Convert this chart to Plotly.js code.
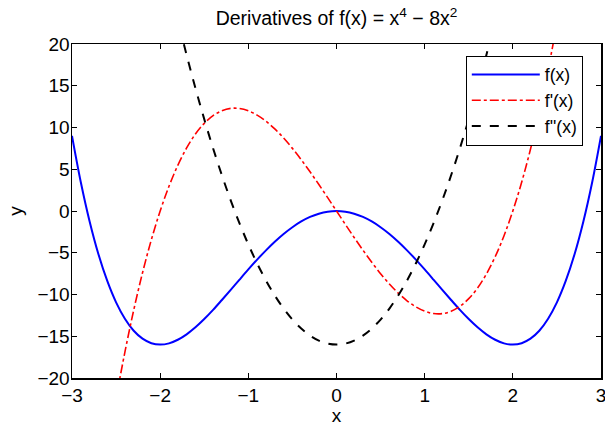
<!DOCTYPE html>
<html>
<head>
<meta charset="utf-8">
<script src="https://cdn.plot.ly/plotly-3.0.1.min.js"></script>
<style>html,body{margin:0;padding:0;background:#fff;}#chart{width:605px;height:426px;}</style>
</head>
<body>
<div id="chart"></div>
<script>
var xVals = [-3.0,-2.9,-2.8,-2.7,-2.6,-2.5,-2.4,-2.3,-2.2,-2.1,-2.0,-1.9,-1.8,-1.7,-1.6,-1.5,-1.4,-1.3,-1.2,-1.1,-1.0,-0.9,-0.8,-0.7,-0.6,-0.5,-0.4,-0.3,-0.2,-0.1,0.0,0.1,0.2,0.3,0.4,0.5,0.6,0.7,0.8,0.9,1.0,1.1,1.2,1.3,1.4,1.5,1.6,1.7,1.8,1.9,2.0,2.1,2.2,2.3,2.4,2.5,2.6,2.7,2.8,2.9,3.0];
var fVals = [9,3.45,-1.25,-5.18,-8.38,-10.94,-12.90,-14.34,-15.29,-15.83,-16,-15.85,-15.42,-14.77,-13.93,-12.94,-11.84,-10.66,-9.45,-8.22,-7,-5.82,-4.71,-3.68,-2.75,-1.94,-1.25,-0.71,-0.32,-0.08,0,-0.08,-0.32,-0.71,-1.25,-1.94,-2.75,-3.68,-4.71,-5.82,-7,-8.22,-9.45,-10.66,-11.84,-12.94,-13.93,-14.77,-15.42,-15.85,-16,-15.83,-15.29,-14.34,-12.90,-10.94,-8.38,-5.18,-1.25,3.45,9];
var f1Vals = [-60,-51.16,-43.01,-35.53,-28.70,-22.5,-16.90,-11.87,-7.39,-3.44,0,2.96,5.47,7.55,9.22,10.5,11.42,12.01,12.29,12.28,12,11.48,10.75,9.83,8.74,7.5,6.14,4.69,3.17,1.60,0,-1.60,-3.17,-4.69,-6.14,-7.5,-8.74,-9.83,-10.75,-11.48,-12,-12.28,-12.29,-12.01,-11.42,-10.5,-9.22,-7.55,-5.47,-2.96,0,3.44,7.39,11.87,16.90,22.5,28.70,35.53,43.01,51.16,60];
var f2Vals = [92,84.92,78.08,71.48,65.12,59,53.12,47.48,42.08,36.92,32,27.32,22.88,18.68,14.72,11,7.52,4.28,1.28,-1.48,-4,-6.28,-8.32,-10.12,-11.68,-13,-14.08,-14.92,-15.52,-15.88,-16,-15.88,-15.52,-14.92,-14.08,-13,-11.68,-10.12,-8.32,-6.28,-4,-1.48,1.28,4.28,7.52,11,14.72,18.68,22.88,27.32,32,36.92,42.08,47.48,53.12,59,65.12,71.48,78.08,84.92,92];
var seriesNames = ['f(x)', "f'(x)", "f''(x)"];
var xTicks = [-3,-2,-1,0,1,2,3];
var xTickText = ['\u22123','\u22122','\u22121','0','1','2','3'];
var yTicks = [-20,-15,-10,-5,0,5,10,15,20];
var yTickText = ['\u221220','\u221215','\u221210','\u22125','0','5','10','15','20'];

var FONT = 'Liberation Sans, Arial, Helvetica, sans-serif';
var FS = 19;
var traces = [
  {x: xVals, y: fVals, name: seriesNames[0], mode: 'lines', line: {color: '#0000ff', width: 2, dash: 'solid', shape: 'spline'}},
  {x: xVals, y: f1Vals, name: seriesNames[1], mode: 'lines', line: {color: '#ff0000', width: 1.6, dash: 'dashdot', shape: 'spline'}},
  {x: xVals, y: f2Vals, name: seriesNames[2], mode: 'lines', line: {color: '#000000', width: 2, dash: 'dash', shape: 'spline'}}
];
var axisCommon = {
  showgrid: false, zeroline: false, showline: true, linecolor: '#000', linewidth: 1.5,
  mirror: 'ticks', ticks: 'inside', ticklen: 5, tickwidth: 1, tickcolor: '#000',
  ticklabeloverflow: 'allow',
  tickfont: {family: FONT, size: FS, color: '#000'}
};
var layout = {
  width: 605, height: 426,
  margin: {l: 72, r: 4, t: 44, b: 48},
  paper_bgcolor: '#fff', plot_bgcolor: '#fff',
  font: {family: FONT, color: '#000'},
  title: {text: 'Derivatives of f(x) = x<sup>4</sup> \u2212 8x<sup>2</sup>', font: {family: FONT, size: 19.5, color: '#000'},
          x: 0.5, xref: 'paper', y: 0.957, yref: 'container', yanchor: 'middle'},
  xaxis: Object.assign({}, axisCommon, {range: [-3, 3], tickvals: xTicks, ticktext: xTickText,
          title: {text: 'x', font: {family: FONT, size: FS, color: '#000'}, standoff: 2}}),
  yaxis: Object.assign({}, axisCommon, {range: [-20, 20], tickvals: yTicks, ticktext: yTickText, ticklabelstandoff: -3,
          title: {text: 'y', font: {family: FONT, size: FS, color: '#000'}, standoff: 10}}),
  showlegend: true,
  legend: {x: 0.855, y: 0.965, xanchor: 'center', yanchor: 'top', bgcolor: '#fff', bordercolor: '#000', borderwidth: 1,
           font: {family: FONT, size: 17.5, color: '#000'}, itemwidth: 68}
};
Plotly.newPlot('chart', traces, layout, {displayModeBar: false, staticPlot: true});
</script>
</body>
</html>
